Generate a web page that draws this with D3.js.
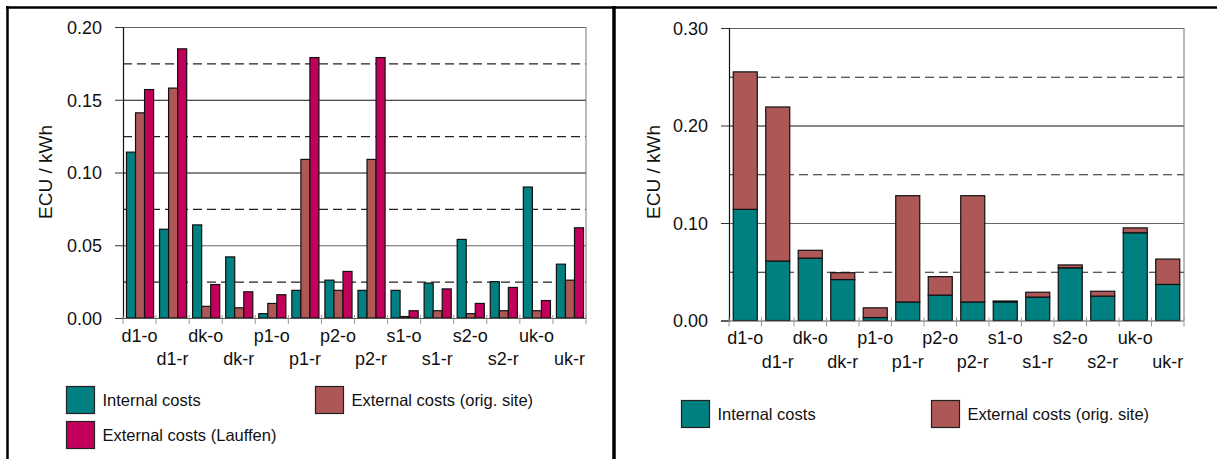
<!DOCTYPE html>
<html>
<head>
<meta charset="utf-8">
<script src="https://cdn.jsdelivr.net/npm/d3@7"></script>
<style>
  body { margin: 0; background: #fff; }
  svg { display: block; font-family: "Liberation Sans", Arial, sans-serif; }
</style>
</head>
<body>
<script>
// categories and values
var categories = ["d1-o", "d1-r", "dk-o", "dk-r", "p1-o", "p1-r", "p2-o",
                  "p2-r", "s1-o", "s1-r", "s2-o", "s2-r", "uk-o", "uk-r"];
var internalCosts = [0.114, 0.061, 0.064, 0.042, 0.003, 0.019, 0.026,
                     0.019, 0.019, 0.024, 0.054, 0.025, 0.090, 0.037];
var externalOrig = [0.141, 0.158, 0.008, 0.007, 0.010, 0.109, 0.019,
                    0.109, 0.001, 0.005, 0.003, 0.005, 0.005, 0.026];
var externalLauffen = [0.157, 0.185, 0.023, 0.018, 0.016, 0.179, 0.032,
                       0.179, 0.005, 0.020, 0.010, 0.021, 0.012, 0.062];
var seriesNames = ["Internal costs", "External costs (orig. site)", "External costs (Lauffen)"];
var leftTicks = [0, 0.05, 0.10, 0.15, 0.20];
var leftHalfTicks = [0.025, 0.075, 0.125, 0.175];
var rightTicks = [0, 0.10, 0.20, 0.30];
var rightHalfTicks = [0.05, 0.15, 0.25];

var colors = ["#008080", "#ad5756", "#c2005b"];
var fmt = d3.format(".2f");

var svg = d3.select("body").append("svg")
  .attr("width", 1217)
  .attr("height", 459);

// frame
svg.append("line").attr("x1", 6).attr("x2", 1217).attr("y1", 7.5).attr("y2", 7.5)
  .attr("stroke", "#000").attr("stroke-width", 2.5);
svg.append("line").attr("x1", 7.5).attr("x2", 7.5).attr("y1", 6).attr("y2", 459)
  .attr("stroke", "#000").attr("stroke-width", 2.5);
svg.append("line").attr("x1", 614).attr("x2", 614).attr("y1", 6).attr("y2", 459)
  .attr("stroke", "#000").attr("stroke-width", 3.5);

function panel(p) {
  var g = svg.append("g");
  var y = d3.scaleLinear().domain([0, p.ymax]).range([p.y0, p.y1]);
  var x = d3.scaleBand().domain(categories).range([p.x0, p.x1])
    .paddingInner(p.pad).paddingOuter(p.pad / 2);

  // grid
  g.selectAll(".grid").data(p.ticks.slice(1)).enter().append("line")
    .attr("x1", p.x0).attr("x2", p.x1)
    .attr("y1", function(d) { return y(d) + 0.5; })
    .attr("y2", function(d) { return y(d) + 0.5; })
    .attr("stroke", function(d, i) { return i == 0 || d == p.ymax ? "#666" : "#111"; })
    .attr("stroke-width", 1.2);
  g.selectAll(".half").data(p.halfTicks).enter().append("line")
    .attr("x1", p.x0).attr("x2", p.x1)
    .attr("y1", function(d) { return y(d) + 0.5; })
    .attr("y2", function(d) { return y(d) + 0.5; })
    .attr("stroke", "#222").attr("stroke-width", 1.2)
    .attr("stroke-dasharray", "9,5");

  // right plot border
  g.append("line").attr("x1", p.x1).attr("x2", p.x1)
    .attr("y1", p.y1).attr("y2", p.y0).attr("stroke", "#777");

  // bars
  var groups = g.selectAll(".cat").data(categories).enter().append("g")
    .attr("transform", function(d) { return "translate(" + x(d) + ",0)"; });

  if (p.stacked) {
    groups.each(function(d, i) {
      var vals = [internalCosts[i], externalOrig[i]];
      var base = 0;
      vals.forEach(function(v, k) {
        d3.select(this).append("rect")
          .attr("x", 0.5).attr("width", x.bandwidth() - 1)
          .attr("y", y(base + v)).attr("height", y(base) - y(base + v))
          .attr("fill", colors[k]).attr("stroke", "#111").attr("stroke-width", 1.2);
        base += v;
      }, this);
    });
  } else {
    var sub = d3.scaleBand().domain([0, 1, 2]).range([0, x.bandwidth()]);
    groups.each(function(d, i) {
      var vals = [internalCosts[i], externalOrig[i], externalLauffen[i]];
      d3.select(this).selectAll("rect").data(vals).enter().append("rect")
        .attr("x", function(v, k) { return sub(k) + 0.5; })
        .attr("width", sub.bandwidth())
        .attr("y", function(v) { return y(v); })
        .attr("height", function(v) { return y(0) - y(v); })
        .attr("fill", function(v, k) { return colors[k]; })
        .attr("stroke", "#111").attr("stroke-width", 1.2);
    });
  }

  // y axis
  var yAxis = g.append("g")
    .attr("transform", "translate(" + p.x0 + ",0)")
    .call(d3.axisLeft(y).tickValues(p.ticks).tickFormat(fmt).tickSize(8).tickPadding(13));
  yAxis.select(".domain").attr("stroke", "#111").attr("stroke-width", 1.2);
  yAxis.selectAll(".tick line").attr("stroke", "#333");
  yAxis.selectAll("text").style("font-size", "18px").attr("fill", "#111");
  yAxis.selectAll(".tick text").attr("dy", "0.36em");

  // x baseline and category ticks
  g.append("line").attr("x1", p.x0).attr("x2", p.x1)
    .attr("y1", p.y0 + 0.5).attr("y2", p.y0 + 0.5).attr("stroke", "#555");
  var bounds = d3.range(categories.length + 1);
  g.selectAll(".ctick").data(bounds).enter().append("line")
    .attr("x1", function(i) { return p.x0 + i * x.step(); })
    .attr("x2", function(i) { return p.x0 + i * x.step(); })
    .attr("y1", p.y0 - 3).attr("y2", p.y0 + 6)
    .attr("stroke", "#999");

  g.selectAll(".xlab").data(categories).enter().append("text")
    .attr("x", function(d) { return x(d) + x.bandwidth() / 2; })
    .attr("y", function(d, i) { return i % 2 == 0 ? p.row1 : p.row2; })
    .attr("text-anchor", "middle")
    .style("font-size", "18px").attr("fill", "#111")
    .text(function(d) { return d; });

  g.append("text")
    .attr("transform", "translate(" + p.titleX + "," + p.titleY + ") rotate(-90)")
    .attr("text-anchor", "middle")
    .style("font-size", "19px").attr("fill", "#111")
    .text("ECU / kWh");

  // legend
  var leg = g.selectAll(".leg").data(p.legend).enter().append("g")
    .attr("transform", function(d) { return "translate(" + d.x + "," + d.y + ")"; });
  leg.append("rect").attr("width", 28).attr("height", 27)
    .attr("fill", function(d) { return colors[d.k]; })
    .attr("stroke", "#222").attr("stroke-width", 1.2);
  leg.append("text").attr("x", 36).attr("y", 19)
    .style("font-size", "16.5px").attr("fill", "#111")
    .text(function(d) { return seriesNames[d.k]; });
}

panel({
  x0: 123, x1: 586, y0: 318, y1: 27, ymax: 0.20, pad: 0.18,
  ticks: leftTicks, halfTicks: leftHalfTicks, stacked: false,
  row1: 342, row2: 365, titleX: 52, titleY: 172,
  legend: [{k: 0, x: 66.5, y: 386.5}, {k: 1, x: 315.5, y: 386.5}, {k: 2, x: 66.5, y: 421.5}]
});

panel({
  x0: 729, x1: 1184, y0: 320.5, y1: 28, ymax: 0.30, pad: 0.23,
  ticks: rightTicks, halfTicks: rightHalfTicks, stacked: true,
  row1: 344, row2: 368, titleX: 660, titleY: 172,
  legend: [{k: 0, x: 681.5, y: 400.5}, {k: 1, x: 931.5, y: 400.5}]
});
</script>
</body>
</html>
